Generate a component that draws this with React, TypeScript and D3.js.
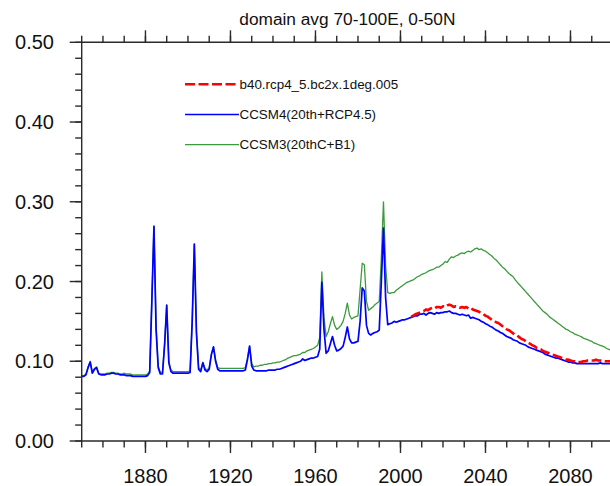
import React from "react";
import * as d3 from "d3";

const title = "domain avg 70-100E, 0-50N";
const seriesNames = ["b40.rcp4_5.bc2x.1deg.005", "CCSM4(20th+RCP4.5)", "CCSM3(20thC+B1)"];
const seriesColors = ["#ff0000", "#0000ff", "#3c9a3c"];

const startYearHist = 1850;
const startYearRcp = 2005;

// CCSM4 (blue), annual 1850-2100
const ccsm4 = [
  0.081, 0.081, 0.083, 0.092, 0.099, 0.085, 0.090, 0.092, 0.084, 0.083,
  0.083, 0.083, 0.084, 0.084, 0.085, 0.085, 0.084, 0.084, 0.083, 0.083,
  0.083, 0.082, 0.082, 0.082, 0.081, 0.081, 0.081, 0.081, 0.081, 0.081,
  0.081, 0.082, 0.086, 0.175, 0.269, 0.140, 0.092, 0.084, 0.084, 0.120,
  0.170, 0.098, 0.087, 0.085, 0.085, 0.085, 0.085, 0.085, 0.085, 0.085,
  0.085, 0.086, 0.150, 0.247, 0.135, 0.090, 0.087, 0.098, 0.089, 0.087,
  0.090, 0.108, 0.118, 0.100, 0.090, 0.088, 0.088, 0.088, 0.088, 0.088,
  0.088, 0.088, 0.088, 0.088, 0.088, 0.088, 0.088, 0.089, 0.102, 0.119,
  0.094, 0.089, 0.088, 0.088, 0.088, 0.088, 0.088, 0.088, 0.089, 0.089,
  0.089, 0.089, 0.090, 0.090, 0.091, 0.092, 0.093, 0.094, 0.095, 0.096,
  0.097, 0.098, 0.099, 0.100, 0.103, 0.101, 0.102, 0.103, 0.104, 0.104,
  0.105, 0.106, 0.115, 0.199, 0.140, 0.110, 0.113, 0.122, 0.131, 0.120,
  0.113, 0.114, 0.116, 0.119, 0.130, 0.143, 0.128, 0.123, 0.123, 0.124,
  0.125, 0.150, 0.192, 0.188, 0.145, 0.135, 0.133, 0.135, 0.136, 0.137,
  0.139, 0.200, 0.267, 0.180, 0.146, 0.147, 0.148, 0.150, 0.149, 0.150,
  0.151, 0.152, 0.152, 0.153, 0.154, 0.155, 0.156, 0.157, 0.157, 0.159,
  0.159, 0.160, 0.158, 0.160, 0.161, 0.160, 0.159, 0.161, 0.160, 0.161,
  0.161, 0.162, 0.162, 0.163, 0.161, 0.160, 0.160, 0.159, 0.158, 0.159,
  0.158, 0.157, 0.158, 0.154, 0.155, 0.154, 0.153, 0.152, 0.150, 0.149,
  0.147, 0.146, 0.144, 0.143, 0.141, 0.139, 0.138, 0.136, 0.135, 0.133,
  0.131, 0.130, 0.129, 0.127, 0.126, 0.125, 0.123, 0.122, 0.121, 0.120,
  0.118, 0.117, 0.116, 0.115, 0.114, 0.113, 0.112, 0.111, 0.109, 0.108,
  0.107, 0.106, 0.105, 0.104, 0.104, 0.103, 0.102, 0.101, 0.100, 0.099,
  0.099, 0.098, 0.098, 0.097, 0.097, 0.097, 0.097, 0.097, 0.097, 0.097,
  0.097, 0.097, 0.097, 0.097, 0.098, 0.097, 0.097, 0.097, 0.097, 0.097,
  0.096,
];

// CCSM3 (green), annual 1850-2100
const ccsm3 = [
  0.082, 0.082, 0.084, 0.093, 0.100, 0.086, 0.091, 0.093, 0.085, 0.084,
  0.084, 0.084, 0.085, 0.085, 0.086, 0.086, 0.085, 0.085, 0.084, 0.084,
  0.085, 0.084, 0.084, 0.084, 0.083, 0.083, 0.083, 0.083, 0.083, 0.083,
  0.083, 0.084, 0.088, 0.177, 0.270, 0.142, 0.094, 0.086, 0.086, 0.122,
  0.171, 0.100, 0.089, 0.087, 0.087, 0.087, 0.087, 0.087, 0.087, 0.087,
  0.087, 0.088, 0.151, 0.247, 0.137, 0.092, 0.089, 0.099, 0.091, 0.089,
  0.092, 0.109, 0.118, 0.102, 0.092, 0.091, 0.091, 0.091, 0.091, 0.091,
  0.091, 0.091, 0.091, 0.091, 0.091, 0.091, 0.091, 0.092, 0.104, 0.119,
  0.097, 0.093, 0.094, 0.094, 0.095, 0.095, 0.096, 0.096, 0.097, 0.097,
  0.098, 0.098, 0.099, 0.099, 0.100, 0.101, 0.102, 0.104, 0.105, 0.106,
  0.107, 0.107, 0.108, 0.109, 0.111, 0.111, 0.113, 0.114, 0.115, 0.116,
  0.118, 0.120, 0.130, 0.212, 0.155, 0.131, 0.137, 0.147, 0.156, 0.145,
  0.140, 0.142, 0.145, 0.150, 0.160, 0.173, 0.158, 0.153, 0.155, 0.156,
  0.157, 0.190, 0.223, 0.221, 0.175, 0.164, 0.166, 0.168, 0.171, 0.173,
  0.175, 0.230, 0.300, 0.220, 0.186, 0.185, 0.186, 0.186, 0.189, 0.191,
  0.193, 0.195, 0.197, 0.199, 0.200, 0.201, 0.202, 0.204, 0.206, 0.207,
  0.209, 0.210, 0.211, 0.213, 0.214, 0.215, 0.216, 0.218, 0.218, 0.220,
  0.222, 0.225, 0.224, 0.228, 0.231, 0.230, 0.232, 0.233, 0.235, 0.236,
  0.235, 0.237, 0.238, 0.237, 0.239, 0.241, 0.242, 0.240, 0.241, 0.239,
  0.238, 0.236, 0.234, 0.232, 0.229, 0.227, 0.224, 0.221, 0.218, 0.216,
  0.213, 0.210, 0.208, 0.206, 0.202, 0.199, 0.196, 0.193, 0.190, 0.187,
  0.184, 0.181, 0.178, 0.175, 0.172, 0.169, 0.166, 0.163, 0.161, 0.159,
  0.156, 0.154, 0.152, 0.150, 0.148, 0.146, 0.144, 0.142, 0.140, 0.139,
  0.137, 0.136, 0.134, 0.133, 0.132, 0.131, 0.129, 0.128, 0.127, 0.126,
  0.125, 0.123, 0.122, 0.121, 0.120, 0.119, 0.118, 0.116, 0.115, 0.114,
  0.113,
];

// b40.rcp4_5 (red dashed), annual 2005-2100
const b40 = [
  0.156, 0.157, 0.159, 0.160, 0.161,
  0.162, 0.163, 0.165, 0.164, 0.166, 0.167, 0.166, 0.168, 0.168, 0.167,
  0.169, 0.168, 0.170, 0.171, 0.170, 0.168, 0.169, 0.168, 0.167, 0.168,
  0.167, 0.168, 0.166, 0.167, 0.165, 0.164, 0.163, 0.162, 0.160, 0.159,
  0.157, 0.156, 0.154, 0.152, 0.151, 0.149, 0.148, 0.146, 0.144, 0.142,
  0.140, 0.139, 0.137, 0.135, 0.133, 0.132, 0.130, 0.128, 0.127, 0.125,
  0.123, 0.122, 0.120, 0.119, 0.117, 0.116, 0.115, 0.113, 0.112, 0.111,
  0.110, 0.109, 0.108, 0.107, 0.106, 0.105, 0.104, 0.103, 0.102, 0.102,
  0.101, 0.100, 0.100, 0.099, 0.099, 0.099, 0.100, 0.100, 0.101, 0.101,
  0.101, 0.101, 0.102, 0.101, 0.101, 0.100, 0.100, 0.100, 0.100, 0.100,
  0.099,
];

const xMajorTicks = [1880, 1920, 1960, 2000, 2040, 2080];
const yMajorTicks = [0.0, 0.1, 0.2, 0.3, 0.4, 0.5];

const W = 610;
const H = 486;
const left = 81.7;
const right = 613;
const top = 42.3;
const bottom = 441;

export default function App() {
  const x = d3.scaleLinear().domain([1850, 2100]).range([left, right]);
  const y = d3.scaleLinear().domain([0, 0.5]).range([bottom, top]);

  const line = d3
    .line<[number, number]>()
    .x((d) => x(d[0]))
    .y((d) => y(d[1]));

  const toPts = (arr: number[], start: number): [number, number][] =>
    arr.map((v, i) => [start + i, v]);

  const xMinor = d3.range(1850, 2101, 10);
  const yMinor = d3.range(0, 0.5001, 0.02);
  const axisColor = "#2a2a2a";
  const font = "'Liberation Sans', Arial, Helvetica, sans-serif";

  const legendY = [84.3, 114.5, 144.6];
  const legendDash = ["10,3.5", undefined, undefined];
  const legendWidth = [2.6, 1.4, 1.4];

  return (
    <svg
      width={W}
      height={H}
      style={{ position: "fixed", left: 0, top: 0, background: "#fff" }}
      fontFamily={font}
    >
      <rect x={0} y={0} width={W} height={H} fill="#fff" />
      <text x={(left + right) / 2} y={25} textAnchor="middle" fontSize={17.3} fill="#111">
        {title}
      </text>

      {/* data */}
      <path d={line(toPts(ccsm3, startYearHist)) || ""} fill="none" stroke={seriesColors[2]} strokeWidth={1.3} strokeLinejoin="round" />
      <path d={line(toPts(ccsm4, startYearHist)) || ""} fill="none" stroke={seriesColors[1]} strokeWidth={1.7} strokeLinejoin="round" />
      <path d={line(toPts(b40, startYearRcp)) || ""} fill="none" stroke={seriesColors[0]} strokeWidth={2.6} strokeDasharray="10,3.5" strokeLinejoin="round" />

      {/* frame */}
      <g stroke={axisColor} strokeWidth={1.4}>
        <line x1={left} y1={top} x2={right} y2={top} />
        <line x1={left} y1={bottom} x2={right} y2={bottom} />
        <line x1={left} y1={top} x2={left} y2={bottom} />
        <line x1={right} y1={top} x2={right} y2={bottom} />
        {xMinor.map((t) => (
          <g key={"xm" + t}>
            <line x1={x(t)} x2={x(t)} y1={bottom} y2={bottom + 6.5} />
            <line x1={x(t)} x2={x(t)} y1={top} y2={top - 6.5} />
          </g>
        ))}
        {xMajorTicks.map((t) => (
          <g key={"xM" + t}>
            <line x1={x(t)} x2={x(t)} y1={bottom} y2={bottom + 12} />
            <line x1={x(t)} x2={x(t)} y1={top} y2={top - 12} />
          </g>
        ))}
        {yMinor.map((t, i) => (
          <line key={"ym" + i} x1={left} x2={left - 6.5} y1={y(t)} y2={y(t)} />
        ))}
        {yMajorTicks.map((t) => (
          <line key={"yM" + t} x1={left} x2={left - 12} y1={y(t)} y2={y(t)} />
        ))}
      </g>

      {xMajorTicks.map((t) => (
        <text key={"xl" + t} x={x(t)} y={483} textAnchor="middle" fontSize={20} fill="#111">
          {t}
        </text>
      ))}
      {yMajorTicks.map((t) => (
        <text key={"yl" + t} x={54} y={y(t) + 7} textAnchor="end" fontSize={20} fill="#111">
          {d3.format(".2f")(t)}
        </text>
      ))}

      {/* legend */}
      {seriesNames.map((name, i) => (
        <g key={name}>
          <line
            x1={185}
            x2={239}
            y1={legendY[i]}
            y2={legendY[i]}
            stroke={seriesColors[i]}
            strokeWidth={legendWidth[i]}
            strokeDasharray={legendDash[i]}
          />
          <text x={239.5} y={legendY[i] + 4.8} fontSize={13.4} fill="#111">
            {name}
          </text>
        </g>
      ))}
    </svg>
  );
}
